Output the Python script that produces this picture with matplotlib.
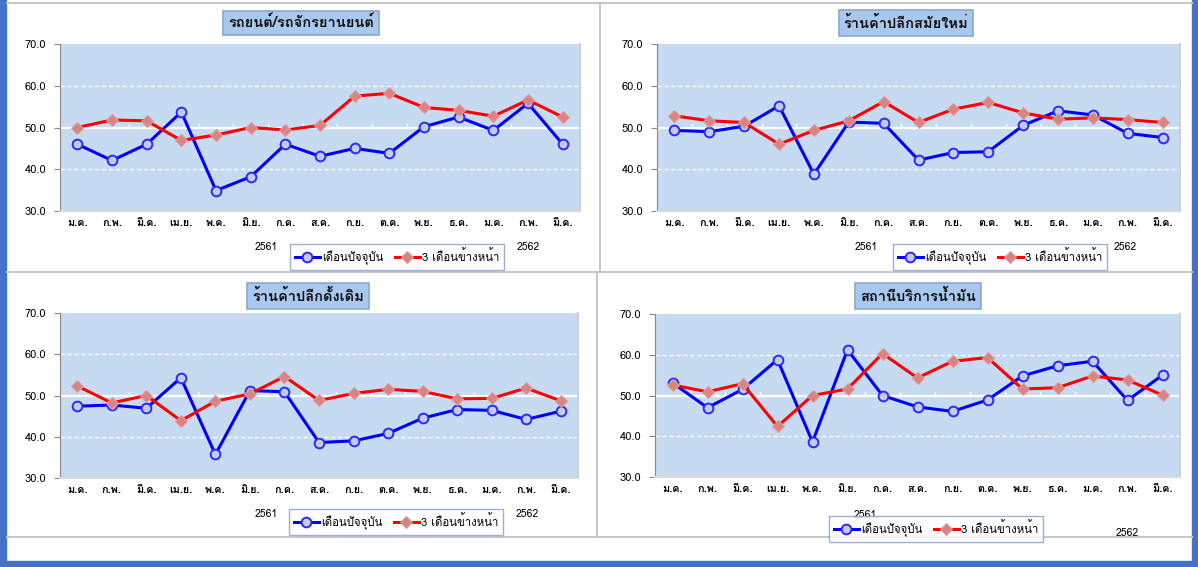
import matplotlib
matplotlib.use("Agg")
import matplotlib.pyplot as plt
from matplotlib import font_manager as fm
from matplotlib.ft2font import FT2Font
from matplotlib.lines import Line2D
from matplotlib.patches import Rectangle

# ---------------- data ----------------
months = ["ม.ค.", "ก.พ.", "มี.ค.", "เม.ย.", "พ.ค.", "มิ.ย.", "ก.ค.", "ส.ค.",
          "ก.ย.", "ต.ค.", "พ.ย.", "ธ.ค.", "ม.ค.", "ก.พ.", "มี.ค."]
years = ["2561", "2562"]
series_names = ["เดือนปัจจุบัน", "3 เดือนข้างหน้า"]
titles = ["รถยนต์/รถจักรยานยนต์", "ร้านค้าปลีกสมัยใหม่",
          "ร้านค้าปลีกดั้งเดิม", "สถานีบริการน้ำมัน"]

car_current = [46.0, 42.1, 46.0, 53.7, 34.9, 38.2, 46.0, 43.1, 45.0, 43.8, 50.2, 52.5, 49.3, 55.8, 46.0]
car_ahead = [50.0, 51.8, 51.6, 46.9, 48.2, 50.0, 49.4, 50.5, 57.5, 58.2, 54.8, 54.1, 52.7, 56.6, 52.5]
modern_current = [49.3, 49.0, 50.3, 55.2, 38.8, 51.3, 51.0, 42.2, 44.0, 44.2, 50.5, 54.0, 53.0, 48.6, 47.6]
modern_ahead = [52.8, 51.6, 51.2, 46.0, 49.3, 51.6, 56.2, 51.2, 54.4, 56.0, 53.5, 52.0, 52.3, 51.9, 51.2]
trad_current = [47.4, 47.7, 46.9, 54.3, 35.7, 51.2, 50.9, 38.6, 39.0, 40.8, 44.5, 46.6, 46.4, 44.2, 46.2]
trad_ahead = [52.3, 48.2, 50.0, 43.9, 48.6, 50.4, 54.6, 48.8, 50.5, 51.5, 51.0, 49.2, 49.3, 51.8, 48.7]
fuel_current = [53.1, 47.0, 51.5, 58.8, 38.6, 61.2, 50.0, 47.2, 46.1, 48.9, 54.8, 57.3, 58.4, 48.8, 55.0]
fuel_ahead = [52.6, 50.9, 52.9, 42.4, 50.0, 51.6, 60.3, 54.3, 58.4, 59.3, 51.6, 51.9, 54.8, 53.8, 50.1]

yticks = [30.0, 40.0, 50.0, 60.0, 70.0]

# ---------------- fonts ----------------
thai_fonts = []
for f in fm.fontManager.ttflist:
    if f.name in thai_fonts:
        continue
    try:
        cm = FT2Font(f.fname).get_charmap()
        if 0x0E01 in cm and 0x0E34 in cm and 0x0E48 in cm:
            thai_fonts.append(f.name)
    except Exception:
        pass
families = thai_fonts[:1] + ["DejaVu Sans"]
plt.rcParams["font.family"] = families

W, H = 1198, 567
fig = plt.figure(figsize=(W / 100, H / 100), dpi=100)
fig.patch.set_facecolor("white")


def fx(px):
    return px / W


def fy(py):
    return 1 - py / H


def hline(y, x0, x1, color="#c8c8c8", lw=1.5):
    fig.add_artist(Line2D([fx(x0), fx(x1)], [fy(y), fy(y)], color=color, lw=lw))


def vline(x, y0, y1, color="#c8c8c8", lw=1.5):
    fig.add_artist(Line2D([fx(x), fx(x)], [fy(y0), fy(y1)], color=color, lw=lw))


hline(3, 7, 1192)
vline(600, 3, 272)
hline(272.5, 7, 1192)
vline(597, 273, 537)
hline(537, 7, 1192)
fig.add_artist(Rectangle((0, 0), fx(6), 1, color="#4472c4", transform=fig.transFigure))
fig.add_artist(Rectangle((fx(1192), 0), fx(6), 1, color="#4472c4", transform=fig.transFigure))
fig.add_artist(Rectangle((0, 0), 1, 6 / H, color="#4472c4", transform=fig.transFigure))

panels = [
    dict(cur=car_current, ahd=car_ahead, title=titles[0], ax=(60, 44, 580, 211),
         tc=(301, 23), leg=(397, 257), y1=(266, 247), y2=(528, 247)),
    dict(cur=modern_current, ahd=modern_ahead, title=titles[1], ax=(657, 44, 1180, 211),
         tc=(906, 23), leg=(1000, 257), y1=(866, 247), y2=(1125, 247)),
    dict(cur=trad_current, ahd=trad_ahead, title=titles[2], ax=(60, 313, 578, 478),
         tc=(308, 296), leg=(396, 522), y1=(266, 514), y2=(527, 514)),
    dict(cur=fuel_current, ahd=fuel_ahead, title=titles[3], ax=(655, 314, 1180, 477),
         tc=(918, 296), leg=(936, 529), y1=(865, 515), y2=(1127, 533)),
]

blue_style = dict(color="#0000ff", lw=2.2, marker="o", ms=7,
                  mfc="#c4cce4", mec="#2a2aff", mew=1.4)
red_style = dict(color="#ff0000", lw=2.2, marker="D", ms=6,
                 mfc="#d88484", mec="#e39a9a", mew=0.8)

x = list(range(len(months)))
for p in panels:
    l, t, r, b = p["ax"]
    ax = fig.add_axes([fx(l), fy(b), fx(r - l), (b - t) / H])
    ax.set_facecolor("#c6daf1")
    ax.set_xlim(-0.5, len(months) - 0.5)
    ax.set_ylim(30, 70)
    for g in (40, 60):
        ax.axhline(g, color="white", lw=1, ls=(0, (3, 2)), zorder=1)
    ax.axhline(50, color="white", lw=1.6, zorder=1)
    for k in range(1, len(months)):
        ax.plot([k - 0.5, k - 0.5], [50, 50.9], color="white", lw=1, zorder=1)
    ax.plot(x, p["cur"], zorder=3, **blue_style)
    ax.plot(x, p["ahd"], zorder=4, **red_style)
    ax.set_yticks(yticks)
    ax.set_yticklabels([f"{v:.1f}" for v in yticks], fontsize=8)
    ax.set_xticks(x)
    ax.set_xticklabels(months, fontsize=7.8, fontweight="bold")
    ax.tick_params(axis="x", length=0, pad=5)
    ax.tick_params(axis="y", length=4, color="#888888", pad=6, direction="out")
    ax.spines["top"].set_visible(False)
    ax.spines["right"].set_color("#d0d0d0")
    ax.spines["right"].set_linewidth(1.5)
    ax.spines["left"].set_color("#888888")
    ax.spines["bottom"].set_color("#d8d8d8")
    ax.spines["bottom"].set_linewidth(1.5)

    fig.text(fx(p["tc"][0]), fy(p["tc"][1]), p["title"], ha="center", va="center",
             fontsize=10.5, fontweight="bold", color="#111111",
             bbox=dict(boxstyle="square,pad=0.35", fc="#a9c8ee", ec="#8aa8c8", lw=1.2))
    fig.text(fx(p["y1"][0]), fy(p["y1"][1]), years[0], ha="center", va="center", fontsize=7.5)
    fig.text(fx(p["y2"][0]), fy(p["y2"][1]), years[1], ha="center", va="center", fontsize=7.5)
    h1 = Line2D([], [], **blue_style)
    h2 = Line2D([], [], **red_style)
    fig.legend([h1, h2], series_names, loc="center",
               bbox_to_anchor=(fx(p["leg"][0]), fy(p["leg"][1])),
               ncol=2, fontsize=8.2, frameon=True, fancybox=False,
               edgecolor="#7f9fd0", handlelength=2.2, handletextpad=0.2,
               columnspacing=1.0, borderpad=0.4)

fig.savefig("out.png", dpi=100, facecolor="white")
